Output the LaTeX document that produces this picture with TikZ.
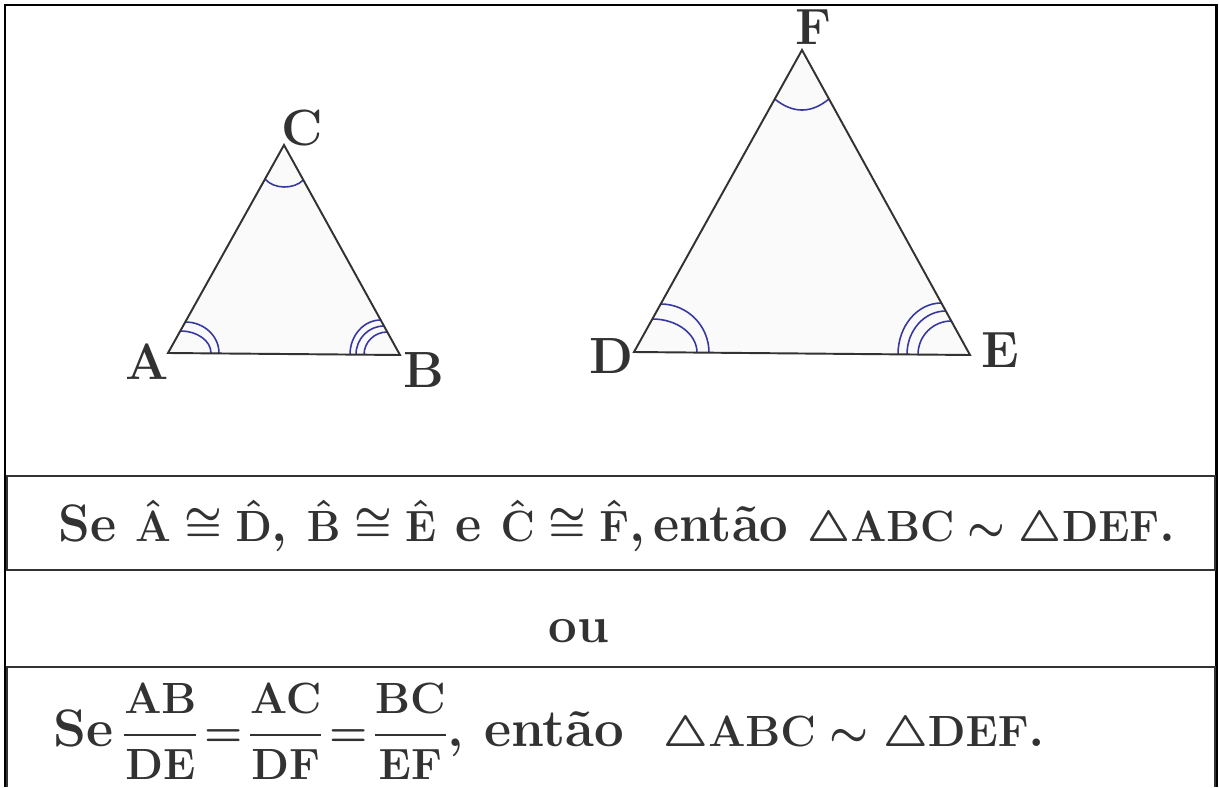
\documentclass[tikz,border=0pt]{standalone}
\usepackage{amsmath,amssymb}
\usepackage{graphicx}
\definecolor{arcblue}{RGB}{55,55,160}
\definecolor{edge}{RGB}{50,50,50}
\begin{document}
\begin{tikzpicture}[x=0.02cm,y=-0.02cm,
  tri/.style={draw=edge,line width=1.1pt,line join=miter},
  arcm/.style={draw=arcblue,line width=0.9pt},
  lbl/.style={font=\fontsize{29}{35}\selectfont\bfseries,text=edge,inner sep=0pt},
  txt/.style={font=\fontsize{30}{36}\selectfont\bfseries\boldmath,text=edge,inner sep=0pt},
  box/.style={draw=edge,line width=0.8pt}]
\useasboundingbox (0,0) rectangle (1219,787);
\fill[white] (0,0) rectangle (1219,787);
\draw[line width=1.7pt] (5,787) -- (5,5) -- (1216,5) -- (1216,787);
\draw[box] (7,476) rectangle (1215,570);
\draw[box] (7,787) -- (7,667) -- (1215,667) -- (1215,787);
% triangle ABC
\coordinate (A) at (168,353);
\coordinate (B) at (400,355);
\coordinate (C) at (284,145);
\fill[black!2] (A) -- (B) -- (C) -- cycle;
% angle marks at A
\draw[arcm] (180.3,331) .. controls (197.3,331) and (211,340.9) .. (211,353);
\draw[arcm] (185.3,322) .. controls (203.9,322) and (219,335.9) .. (219,353);
% angle marks at B
\draw[arcm] (380.7,320) .. controls (363.8,320) and (350,335.5) .. (350,354.6);
\draw[arcm] (384,326) .. controls (368.5,326) and (356,338.8) .. (356,354.6);
\draw[arcm] (387.3,332) .. controls (374.4,332) and (364,342.2) .. (364,354.7);
% angle mark at C
\draw[arcm] (265,179) .. controls (274,189.5) and (294,189.5) .. (303.3,180);
\draw[tri] (A) -- (B) -- (C) -- cycle;
% triangle DEF
\coordinate (D) at (634,352);
\coordinate (E) at (970,355);
\coordinate (F) at (802,50);
\fill[black!2] (D) -- (E) -- (F) -- cycle;
% angle marks at D
\draw[arcm] (652.4,319) .. controls (677,319) and (697,334.1) .. (697,352.6);
\draw[arcm] (660.7,304) .. controls (687.4,304) and (709,325.8) .. (709,352.7);
% angle marks at E
\draw[arcm] (941.4,303) .. controls (917.4,303) and (898,326) .. (898,354.4);
\draw[arcm] (945.8,311) .. controls (924.4,311) and (907,330.4) .. (907,354.4);
\draw[arcm] (951.3,321) .. controls (932.9,321) and (918,336) .. (918,354.5);
% angle mark at F
\draw[arcm] (774.7,99) .. controls (793,113.7) and (811,113.7) .. (829,99);
\draw[tri] (D) -- (E) -- (F) -- cycle;
% labels
\node[lbl] (lA) at (147,362) {A};
\node[lbl] (lB) at (424,370) {B};
\node[lbl] (lC) at (302,128) {C};
\node[lbl] (lD) at (611,356) {D};
\node[lbl] (lE) at (1000,350) {E};
\node[lbl] (lF) at (813,27) {F};
% statements
\node[txt, anchor=base west] (t1) at (58,541) {\resizebox{22.34cm}{\height}{Se $\hat{\mathbf{A}}\cong\hat{\mathbf{D}}$, $\hat{\mathbf{B}}\cong\hat{\mathbf{E}}$ e $\hat{\mathbf{C}}\cong\hat{\mathbf{F}}$,\,então $\triangle\mathbf{ABC}\sim\triangle\mathbf{DEF}$.}};
\node[txt, anchor=base, font=\fontsize{29}{35}\selectfont\bfseries] (ou) at (579,642) {ou};
\node[txt, anchor=base west] (t2) at (53,746) {\resizebox{19.84cm}{\height}{Se\,$\dfrac{\mathbf{AB}}{\mathbf{DE}}\!=\!\dfrac{\mathbf{AC}}{\mathbf{DF}}\!=\!\dfrac{\mathbf{BC}}{\mathbf{EF}}$, então \ $\triangle\mathbf{ABC}\sim\triangle\mathbf{DEF}$.}};
\end{tikzpicture}
\end{document}
